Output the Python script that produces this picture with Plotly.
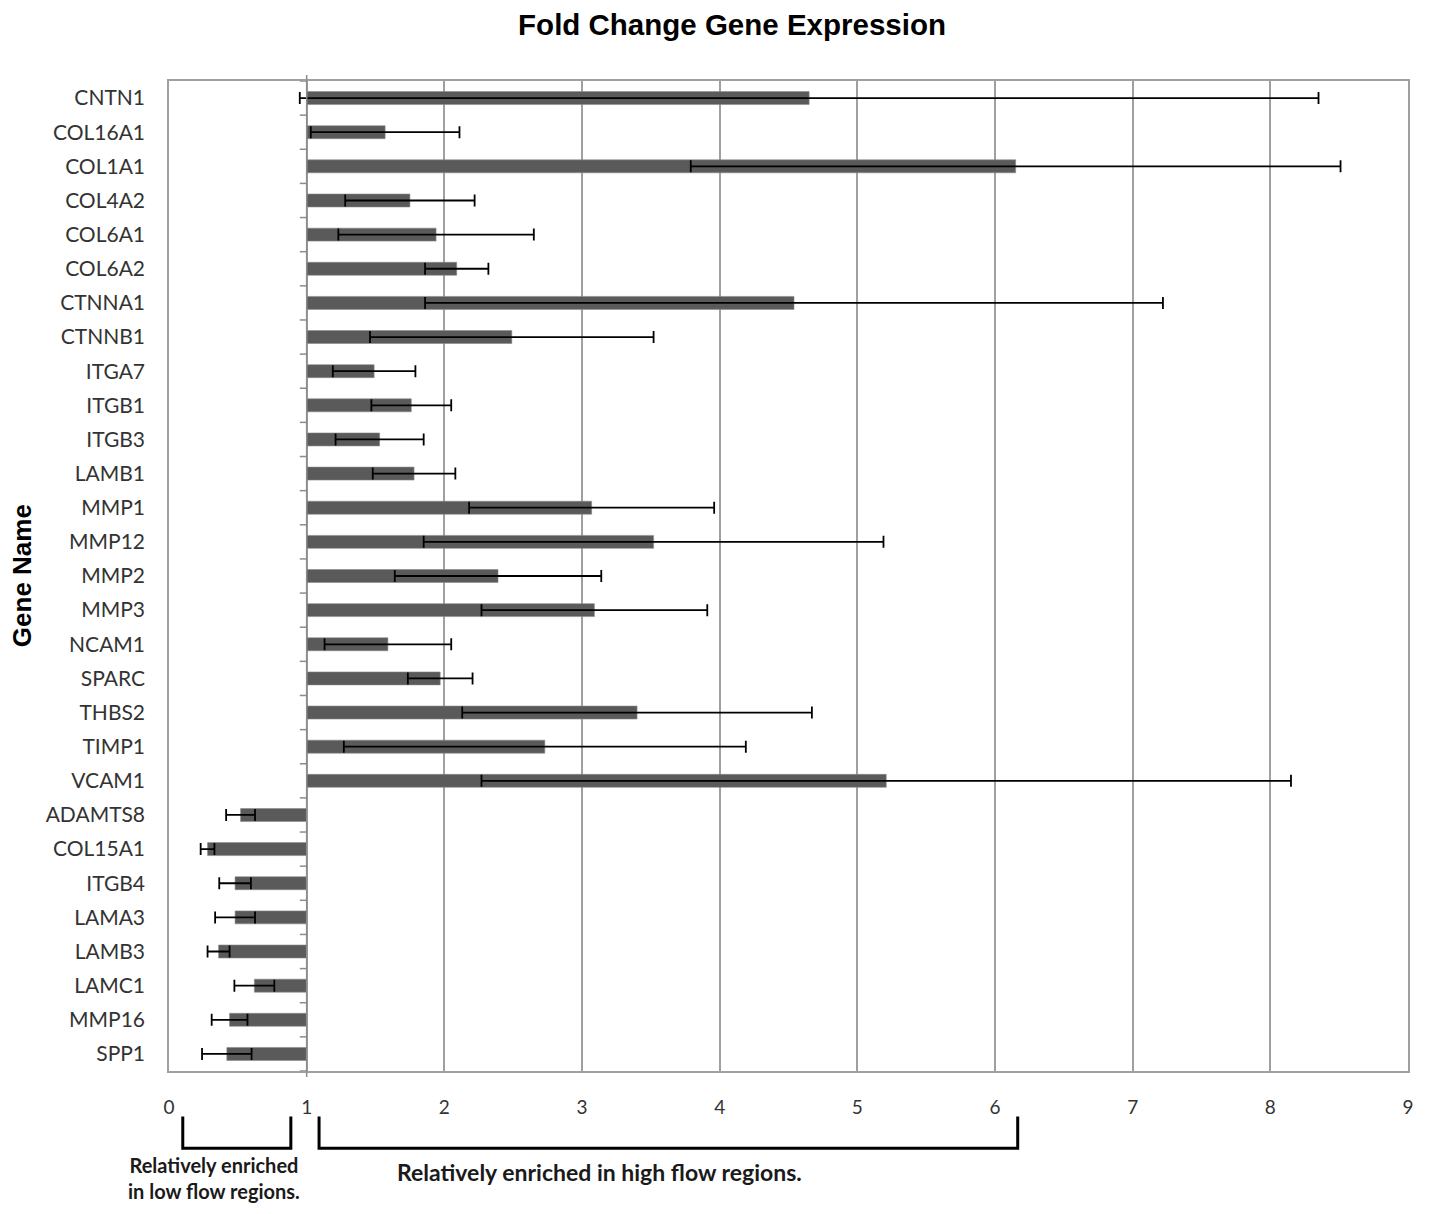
import plotly.graph_objects as go

genes = ["CNTN1", "COL16A1", "COL1A1", "COL4A2", "COL6A1", "COL6A2", "CTNNA1", "CTNNB1",
         "ITGA7", "ITGB1", "ITGB3", "LAMB1", "MMP1", "MMP12", "MMP2", "MMP3", "NCAM1",
         "SPARC", "THBS2", "TIMP1", "VCAM1", "ADAMTS8", "COL15A1", "ITGB4", "LAMA3",
         "LAMB3", "LAMC1", "MMP16", "SPP1"]
fold_change = [4.65, 1.57, 6.15, 1.75, 1.94, 2.09, 4.54, 2.49,
               1.49, 1.76, 1.53, 1.78, 3.07, 3.52, 2.39, 3.09, 1.59,
               1.97, 3.40, 2.73, 5.21, 0.52, 0.28, 0.48, 0.48,
               0.36, 0.62, 0.44, 0.42]
error = [3.70, 0.54, 2.36, 0.47, 0.71, 0.23, 2.68, 1.03,
         0.30, 0.29, 0.32, 0.30, 0.89, 1.67, 0.75, 0.82, 0.46,
         0.235, 1.27, 1.46, 2.94, 0.105, 0.05, 0.115, 0.145,
         0.08, 0.145, 0.13, 0.18]
x_ticks = [0, 1, 2, 3, 4, 5, 6, 7, 8, 9]
baseline = 1

fig = go.Figure()
fig.add_trace(go.Bar(
    y=genes, x=[v - baseline for v in fold_change], base=baseline,
    orientation="h", width=0.38,
    marker=dict(color="#5a5a5a", line=dict(color="#8a8a8a", width=0.6)),
    showlegend=False, hoverinfo="skip"))
fig.add_trace(go.Scatter(
    y=genes, x=fold_change, mode="markers",
    marker=dict(size=1, color="rgba(0,0,0,0)"),
    error_x=dict(type="data", array=error, symmetric=True,
                 color="black", thickness=1.8, width=6),
    showlegend=False, hoverinfo="skip"))

n = len(genes)
shapes = []
# vertical axis line at baseline
shapes.append(dict(type="line", xref="x", yref="paper", x0=baseline, x1=baseline,
                   y0=-0.006, y1=1.006, line=dict(color="#8c8c8c", width=1.5)))
# tick marks between categories
for i in range(n + 1):
    shapes.append(dict(type="line", xref="x", yref="y", x0=baseline - 0.05, x1=baseline,
                       y0=i - 0.5, y1=i - 0.5, line=dict(color="#8c8c8c", width=1.5)))

# brackets
def bracket(xa, xb):
    return dict(type="path", xref="x", yref="paper",
                path=f"M {xa},-0.046 L {xa},-0.078 L {xb},-0.078 L {xb},-0.046",
                line=dict(color="black", width=3))
shapes.append(bracket(0.10, 0.885))
shapes.append(bracket(1.09, 6.165))

annotations = [
    dict(text="Relatively enriched<br>in low flow regions.", x=0.33, y=-0.108,
         xref="x", yref="paper", xanchor="center", yanchor="middle",
         showarrow=False, align="center",
         font=dict(family="Lato", size=20, color="#1a1a1a", weight="bold")),
    dict(text="Relatively enriched in high flow regions.", x=3.125, y=-0.102,
         xref="x", yref="paper", xanchor="center", yanchor="middle", showarrow=False,
         font=dict(family="Lato", size=23, color="#1a1a1a", weight="bold")),
    dict(text="Gene Name", x=-0.1185, y=0.5, xref="paper", yref="paper",
         xanchor="center", yanchor="middle", textangle=-90, showarrow=False,
         font=dict(family="Liberation Sans", size=26, color="black", weight="bold")),
]

fig.update_layout(
    width=1418, height=1198,
    margin=dict(l=161, r=16, t=73, b=135),
    paper_bgcolor="white", plot_bgcolor="white",
    title=dict(text="<b>Fold Change Gene Expression</b>", x=0.5106, xanchor="center",
               y=0.986, yanchor="middle",
               font=dict(family="Liberation Sans", size=29.5, color="black")),
    xaxis=dict(range=[0, 9], tickvals=x_ticks, showgrid=True, gridcolor="#a0a0a0",
               gridwidth=1.5, zeroline=False, showline=True, mirror=True,
               linecolor="#a0a0a0", linewidth=1.5, ticks="",
               tickfont=dict(family="Lato", size=19, color="#333333"),
               ticklabelstandoff=18),
    yaxis=dict(categoryorder="array", categoryarray=genes, range=[n - 0.5, -0.5],
               showgrid=False, zeroline=False, showline=True, mirror=True,
               linecolor="#a0a0a0", linewidth=1.5, ticks="",
               tickfont=dict(family="Lato", size=21, color="#333333"),
               ticklabelstandoff=18),
    shapes=shapes, annotations=annotations,
)

fig.write_html("out.html")
